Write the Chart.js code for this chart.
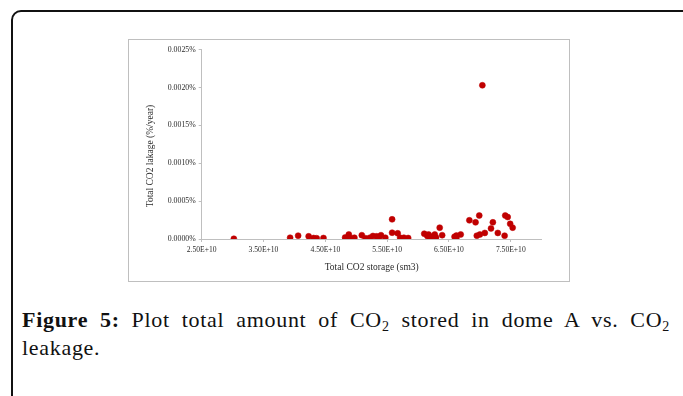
<!DOCTYPE html>
<html>
<head>
<meta charset="utf-8">
<script src="https://cdn.jsdelivr.net/npm/chart.js@4/dist/chart.umd.min.js"></script>
<style>
  html, body { margin: 0; padding: 0; background: #fff; width: 683px; height: 396px; overflow: hidden; }
  #frame {
    position: absolute; left: 11px; top: 10px; width: 690px; height: 420px;
    border: 2px solid #111; border-radius: 10px; box-sizing: border-box;
  }
  #plotbox {
    position: absolute; left: 128px; top: 39px; width: 442px; height: 243px;
    border: 1px solid #bfbfbf; box-sizing: border-box; background: #fff;
  }
  #plotbox canvas { position: absolute; left: 0; top: 0; }
  #caption {
    position: absolute; left: 22px; top: 306px; width: 648px;
    font-family: "Liberation Serif", "Times New Roman", serif; font-size: 22px;
    letter-spacing: 0.7px; line-height: 28px; color: #111;
  }
  #caption .l1 { text-align: justify; text-align-last: justify; }
  #caption sub { font-size: 14px; line-height: 0; vertical-align: -4px; }
</style>
</head>
<body>
<div id="frame"></div>
<div id="plotbox"><canvas id="chart" width="440" height="241"></canvas></div>
<div id="caption"><div class="l1"><b>Figure 5:</b> Plot total amount of CO<sub>2</sub> stored in dome A vs. CO<sub>2</sub></div><div>leakage.</div></div>
<script>
// Total CO2 stored (sm3) for each simulation case
const storage = [
  3.02e10, 3.93e10, 4.06e10, 4.23e10, 4.31e10, 4.36e10, 4.47e10,
  4.82e10, 4.83e10, 4.88e10, 4.91e10, 4.97e10, 5.09e10, 5.15e10,
  5.22e10, 5.27e10, 5.33e10, 5.37e10, 5.40e10, 5.47e10, 5.58e10,
  5.58e10, 5.67e10, 5.71e10, 5.77e10, 5.84e10, 6.10e10, 6.15e10,
  6.17e10, 6.19e10, 6.22e10, 6.27e10, 6.29e10, 6.35e10, 6.39e10,
  6.59e10, 6.62e10, 6.62e10, 6.69e10, 6.83e10, 6.93e10, 6.95e10,
  6.99e10, 7.00e10, 7.04e10, 7.08e10, 7.18e10, 7.21e10, 7.29e10,
  7.40e10, 7.41e10, 7.45e10, 7.49e10, 7.53e10
];
// Total CO2 leakage (% per year) for the same cases
const leakage = [
  0.000003, 0.000017, 0.000044, 0.000035, 0.000013, 0.000010, 0.000013,
  0.000020, 0.000004, 0.000060, 0.000010, 0.000017, 0.000050, 0.000010,
  0.000017, 0.000040, 0.000035, 0.000026, 0.000050, 0.000017, 0.000260,
  0.000083, 0.000075, 0.000017, 0.000017, 0.000013, 0.000070, 0.000040,
  0.000060, 0.000017, 0.000030, 0.000060, 0.000020, 0.000150, 0.000050,
  0.000030, 0.000017, 0.000045, 0.000060, 0.000247, 0.000220, 0.000044,
  0.000310, 0.000060, 0.002030, 0.000080, 0.000140, 0.000220, 0.000080,
  0.000044, 0.000310, 0.000290, 0.000200, 0.000150
];
// Axis tick positions
const xTicks = [2.5e10, 3.5e10, 4.5e10, 5.5e10, 6.5e10, 7.5e10];
const yTicks = [0, 0.0005, 0.0010, 0.0015, 0.0020, 0.0025];

const points = storage.map((x, i) => ({ x: x, y: leakage[i] }));
const axisGray = '#bfbfbf';
const textColor = '#2a2a2a';
const serif = '"Liberation Serif", "Times New Roman", serif';
const yTitle = 'Total CO2 lakage (%/year)';

// Vertical axis title, set a little below the middle of the axis
const yTitlePlugin = {
  id: 'yTitle',
  afterDraw(chart) {
    const ctx = chart.ctx;
    const area = chart.chartArea;
    ctx.save();
    ctx.translate(21, area.bottom - 83);
    ctx.rotate(-Math.PI / 2);
    ctx.font = '9.5px ' + serif;
    ctx.fillStyle = textColor;
    ctx.textAlign = 'center';
    ctx.textBaseline = 'middle';
    ctx.fillText(yTitle, 0, 0);
    ctx.restore();
  }
};

new Chart(document.getElementById('chart'), {
  type: 'scatter',
  data: {
    datasets: [{
      data: points,
      pointRadius: 3,
      pointHoverRadius: 3,
      pointBackgroundColor: '#c00000',
      pointBorderColor: '#c00000',
      pointBorderWidth: 0.5
    }]
  },
  plugins: [yTitlePlugin],
  options: {
    responsive: false,
    animation: false,
    events: [],
    layout: { padding: { top: 9.7, right: 27.3, bottom: 0, left: 0 } },
    plugins: { legend: { display: false }, tooltip: { enabled: false } },
    scales: {
      x: {
        type: 'linear',
        min: 2.5e10,
        max: 8.0e10,
        afterBuildTicks: (axis) => { axis.ticks = xTicks.map(v => ({ value: v })); },
        afterFit: (axis) => { axis.height = 42; },
        grid: { drawOnChartArea: false, drawTicks: true, tickLength: 3, color: axisGray },
        border: { color: axisGray, width: 1 },
        ticks: {
          padding: 3,
          maxRotation: 0,
          autoSkip: false,
          color: textColor,
          font: { family: serif, size: 7.6 },
          callback: (v) => (v / 1e10).toFixed(2) + 'E+10'
        },
        title: {
          display: true,
          text: 'Total CO2 storage (sm3)',
          color: textColor,
          font: { family: serif, size: 9.5 },
          padding: { top: 0, bottom: 7.6 }
        }
      },
      y: {
        type: 'linear',
        min: 0,
        max: 0.0025,
        afterBuildTicks: (axis) => { axis.ticks = yTicks.map(v => ({ value: v })); },
        afterFit: (axis) => { axis.width = 72.7; },
        grid: { drawOnChartArea: false, drawTicks: true, tickLength: 3, color: axisGray },
        border: { color: axisGray, width: 1 },
        ticks: {
          padding: 3,
          autoSkip: false,
          color: textColor,
          font: { family: serif, size: 7.8 },
          callback: (v) => v.toFixed(4) + '%'
        },
        title: { display: false }
      }
    }
  }
});
</script>
</body>
</html>
